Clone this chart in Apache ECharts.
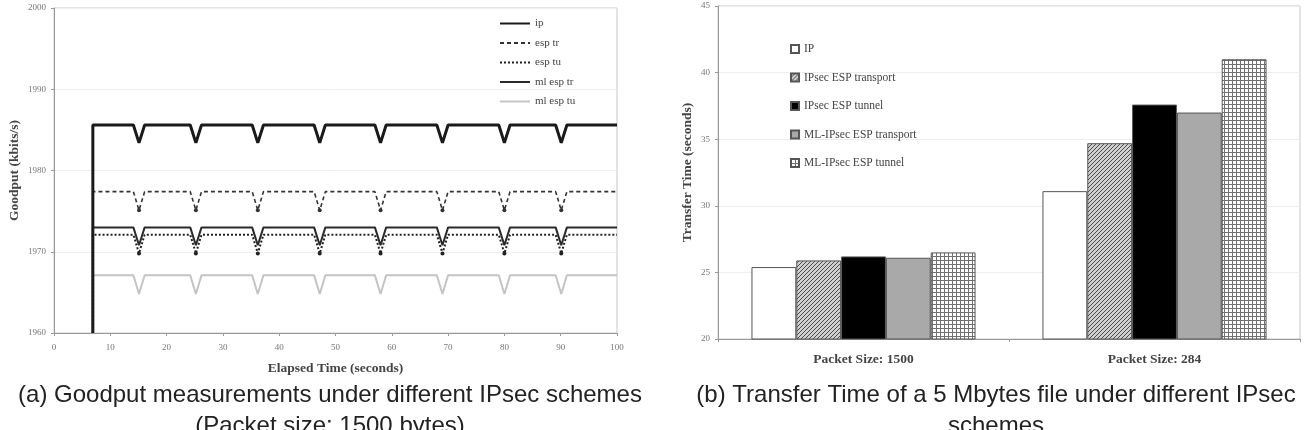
<!DOCTYPE html>
<html>
<head>
<meta charset="utf-8">
<script src="https://cdn.jsdelivr.net/npm/echarts@6/dist/echarts.min.js"></script>
<style>
  html, body { margin: 0; padding: 0; background: #fff; }
  #chart { width: 1306px; height: 430px; }
</style>
</head>
<body>
<div id="chart"></div>
<script>
// (a) goodput lines
var seriesNames = ['ip', 'esp tr', 'esp tu', 'ml esp tr', 'ml esp tu'];
var startTime = 6.9;
var endTime = 100;
var dipTimes = [15.1, 25.2, 36.2, 47.2, 58.0, 69.0, 80.0, 90.1];
var steadyLevels = [1985.6, 1977.4, 1972.1, 1973.0, 1967.1];
var dipLevels = [1983.4, 1975.1, 1969.8, 1970.8, 1964.8];
var goodputTicks = [1960, 2000, 10];

// (b) transfer time bars
var packetSizes = ['Packet Size: 1500', 'Packet Size: 284'];
var schemeNames = ['IP', 'IPsec ESP transport', 'IPsec ESP tunnel', 'ML-IPsec ESP transport', 'ML-IPsec ESP tunnel'];
var ipTimes = [25.4, 31.1];
var espTransportTimes = [25.9, 34.7];
var espTunnelTimes = [26.2, 37.6];
var mlTransportTimes = [26.1, 37.0];
var mlTunnelTimes = [26.5, 41.0];
var transferTicks = [20, 45, 5];

var serif = '"Liberation Serif", "DejaVu Serif", serif';
var sans = '"Liberation Sans", Arial, sans-serif';

function makePattern(kind) {
    var c = document.createElement('canvas');
    c.width = 4;
    c.height = 4;
    var ctx = c.getContext('2d');
    if (kind === 'hatch') {
        ctx.fillStyle = '#d0d0d0';
        ctx.fillRect(0, 0, 4, 4);
        ctx.fillStyle = '#4a4a4a';
        for (var i = 0; i < 4; i++) {
            ctx.fillRect(i, 3 - i, 1, 1);
        }
    } else {
        ctx.fillStyle = '#ffffff';
        ctx.fillRect(0, 0, 4, 4);
        ctx.fillStyle = '#707070';
        ctx.fillRect(0, 0, 4, 1);
        ctx.fillRect(0, 0, 1, 4);
    }
    return { image: c, repeat: 'repeat' };
}

var lineStyles = [
    { color: '#1a1a1a', width: 3, type: 'solid' },
    { color: '#333', width: 1.6, type: [4, 3] },
    { color: '#222', width: 2, type: [2, 2] },
    { color: '#2a2a2a', width: 2, type: 'solid' },
    { color: '#c4c4c4', width: 2, type: 'solid' }
];
var dipMarks = ['none', 'circle', 'circle', 'none', 'none'];

function buildLine(k) {
    var pts = [[startTime, goodputTicks[0]], [startTime, steadyLevels[k]]];
    dipTimes.forEach(function (t) {
        pts.push([t - 1.0, steadyLevels[k]]);
        pts.push({ value: [t, dipLevels[k]], symbol: dipMarks[k], symbolSize: 4 });
        pts.push([t + 1.0, steadyLevels[k]]);
    });
    pts.push([endTime, steadyLevels[k]]);
    return pts;
}

var chart = echarts.init(document.getElementById('chart'));

var axisLabelStyle = { fontFamily: serif, fontSize: 9, color: '#777', formatter: function (v) { return String(v); } };
var axisNameStyle = { fontFamily: serif, fontSize: 13.5, fontWeight: 'bold', color: '#444' };

var lineSeries = seriesNames.map(function (name, k) {
    return {
        name: name,
        type: 'line',
        xAxisIndex: 0,
        yAxisIndex: 0,
        symbol: 'none',
        showSymbol: true,
        animation: false,
        itemStyle: { color: lineStyles[k].color },
        lineStyle: lineStyles[k],
        data: buildLine(k),
        z: 10 - k
    };
});

var barData = [ipTimes, espTransportTimes, espTunnelTimes, mlTransportTimes, mlTunnelTimes];
var barColors = ['#ffffff', makePattern('hatch'), '#000000', '#a9a9a9', makePattern('grid')];
var barSeries = schemeNames.map(function (name, k) {
    return {
        name: name,
        type: 'bar',
        xAxisIndex: 1,
        yAxisIndex: 1,
        barGap: '0%',
        barCategoryGap: '23%',
        animation: false,
        itemStyle: { color: barColors[k], borderColor: '#555', borderWidth: 1 },
        data: barData[k]
    };
});

var option = {
    backgroundColor: '#fff',
    animation: false,
    grid: [
        { left: 54, top: 8, width: 563, height: 325, show: true, borderColor: '#c8c8c8', borderWidth: 1 },
        { left: 718, top: 6, width: 582, height: 333, show: true, borderColor: '#c8c8c8', borderWidth: 1 }
    ],
    legend: [
        {
            data: seriesNames,
            orient: 'vertical',
            left: 494,
            top: 13,
            itemWidth: 30,
            itemHeight: 8,
            itemGap: 8.5,
            itemStyle: { color: 'transparent', borderWidth: 0 },
            textStyle: { fontFamily: serif, fontSize: 11, color: '#444' }
        },
        {
            data: schemeNames,
            orient: 'vertical',
            left: 785,
            top: 38,
            itemWidth: 8,
            itemHeight: 8,
            itemGap: 16.5,
            icon: 'rect',
            textStyle: { fontFamily: serif, fontSize: 11.5, color: '#444' }
        }
    ],
    xAxis: [
        {
            gridIndex: 0,
            type: 'value',
            min: 0,
            max: 100,
            interval: 10,
            name: 'Elapsed Time (seconds)',
            nameLocation: 'middle',
            nameGap: 29,
            nameTextStyle: axisNameStyle,
            axisLine: { lineStyle: { color: '#999' } },
            axisTick: { length: 3, lineStyle: { color: '#999' } },
            axisLabel: Object.assign({}, axisLabelStyle, { margin: 10 }),
            splitLine: { show: false }
        },
        {
            gridIndex: 1,
            type: 'category',
            data: packetSizes,
            axisLine: { lineStyle: { color: '#999' } },
            axisTick: { show: true, length: 3, lineStyle: { color: '#999' } },
            axisLabel: { margin: 14, fontFamily: serif, fontSize: 13.5, fontWeight: 'bold', color: '#444' }
        }
    ],
    yAxis: [
        {
            gridIndex: 0,
            type: 'value',
            min: goodputTicks[0],
            max: goodputTicks[1],
            interval: goodputTicks[2],
            name: 'Goodput (kbits/s)',
            nameLocation: 'middle',
            nameGap: 32,
            nameTextStyle: axisNameStyle,
            axisLine: { show: true, lineStyle: { color: '#999' } },
            axisTick: { show: true, length: 3, lineStyle: { color: '#999' } },
            axisLabel: Object.assign({}, axisLabelStyle, { margin: 8 }),
            splitLine: { lineStyle: { color: '#eeeeee' } }
        },
        {
            gridIndex: 1,
            type: 'value',
            min: transferTicks[0],
            max: transferTicks[1],
            interval: transferTicks[2],
            name: 'Transfer Time (seconds)',
            nameLocation: 'middle',
            nameGap: 23,
            nameTextStyle: axisNameStyle,
            axisLine: { show: true, lineStyle: { color: '#999' } },
            axisTick: { show: true, length: 3, lineStyle: { color: '#999' } },
            axisLabel: Object.assign({}, axisLabelStyle, { margin: 8 }),
            splitLine: { lineStyle: { color: '#eeeeee' } }
        }
    ],
    graphic: [
        { type: 'text', x: 330, y: 395, style: { text: '(a) Goodput measurements under different IPsec schemes', font: '24px ' + sans, fill: '#222', align: 'center', verticalAlign: 'middle' } },
        { type: 'text', x: 330, y: 426, style: { text: '(Packet size: 1500 bytes)', font: '24px ' + sans, fill: '#222', align: 'center', verticalAlign: 'middle' } },
        { type: 'text', x: 996, y: 395, style: { text: '(b) Transfer Time of a 5 Mbytes file under different IPsec', font: '24px ' + sans, fill: '#222', align: 'center', verticalAlign: 'middle' } },
        { type: 'text', x: 996, y: 426, style: { text: 'schemes', font: '24px ' + sans, fill: '#222', align: 'center', verticalAlign: 'middle' } }
    ],
    series: lineSeries.concat(barSeries)
};

chart.setOption(option);
</script>
</body>
</html>
